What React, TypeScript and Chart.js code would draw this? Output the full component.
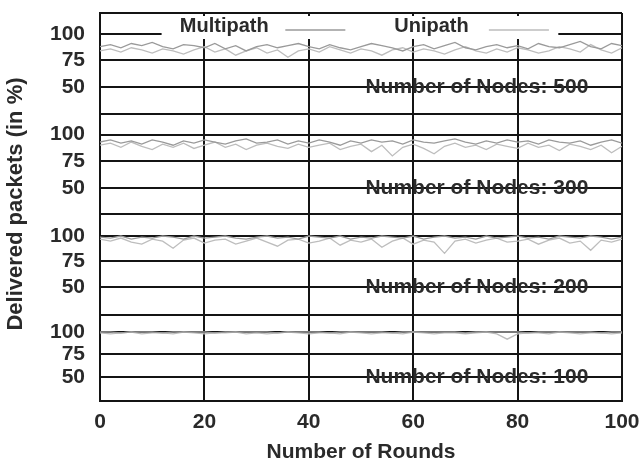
import React, { useEffect, useRef } from 'react';
import { Chart, registerables } from 'chart.js';

Chart.register(...registerables);

// ---- data ----
const rounds = [0, 2, 4, 6, 8, 10, 12, 14, 16, 18, 20, 22, 24, 26, 28, 30, 32, 34, 36, 38, 40, 42, 44, 46, 48, 50, 52, 54, 56, 58, 60, 62, 64, 66, 68, 70, 72, 74, 76, 78, 80, 82, 84, 86, 88, 90, 92, 94, 96, 98, 100];
const xTicks = [0, 20, 40, 60, 80, 100];
const yTicks = [50, 75, 100];
const nodeCounts = ['500', '300', '200', '100'];
const seriesNames = ['Multipath', 'Unipath'];

const multipath500 = [88, 90, 87, 91, 89, 92, 88, 86, 90, 89, 87, 91, 86, 89, 84, 88, 90, 87, 89, 91, 88, 86, 90, 87, 85, 88, 91, 89, 87, 84, 88, 90, 86, 89, 92, 87, 85, 88, 90, 87, 89, 86, 91, 88, 87, 90, 93, 88, 86, 91, 89];
const unipath500 = [84, 86, 83, 87, 85, 82, 86, 84, 81, 85, 88, 83, 86, 80, 84, 87, 82, 85, 78, 84, 86, 83, 88, 85, 82, 86, 84, 80, 85, 87, 83, 86, 84, 81, 85, 88, 84, 82, 86, 83, 87, 85, 82, 84, 88, 86, 83, 90, 85, 82, 87];
const multipath300 = [93, 95, 92, 94, 91, 95, 93, 90, 94, 92, 95, 93, 91, 94, 96, 92, 93, 95, 91, 94, 92, 95, 93, 90, 94, 92, 95, 93, 94, 91, 95, 93, 92, 94, 96, 93, 91, 94, 92, 95, 93, 94, 91, 95, 93, 92, 94, 90, 93, 95, 92];
const unipath300 = [90, 92, 88, 93, 89, 86, 91, 88, 92, 87, 90, 93, 88, 91, 86, 90, 92, 89, 87, 91, 88, 90, 92, 86, 89, 91, 84, 90, 80, 88, 91, 87, 82, 89, 92, 88, 90, 86, 91, 89, 87, 92, 88, 90, 85, 91, 89, 86, 90, 83, 89];
const multipath200 = [99, 98, 100, 97, 99, 98, 100, 99, 97, 100, 98, 99, 100, 98, 97, 99, 100, 98, 99, 97, 100, 99, 98, 100, 97, 99, 98, 100, 99, 98, 100, 97, 99, 100, 98, 99, 97, 100, 98, 99, 100, 98, 99, 97, 100, 99, 98, 100, 99, 97, 99];
const unipath200 = [97, 95, 98, 94, 92, 97, 95, 88, 96, 98, 93, 96, 97, 92, 95, 98, 94, 90, 96, 97, 93, 95, 98, 91, 96, 94, 97, 89, 95, 98, 92, 96, 94, 83, 95, 97, 93, 96, 98, 94, 95, 97, 92, 96, 98, 93, 95, 86, 96, 94, 97];
const multipath100 = [100, 100, 99, 100, 100, 100, 99, 100, 100, 100, 100, 99, 100, 100, 100, 100, 100, 99, 100, 100, 100, 100, 99, 100, 100, 100, 100, 100, 99, 100, 100, 100, 100, 100, 100, 99, 100, 100, 100, 100, 100, 99, 100, 100, 100, 100, 100, 100, 99, 100, 100];
const unipath100 = [99, 98, 99, 100, 98, 99, 99, 98, 100, 99, 98, 99, 99, 100, 98, 99, 98, 99, 100, 99, 98, 99, 99, 98, 100, 99, 98, 99, 99, 98, 100, 99, 98, 99, 99, 98, 99, 100, 98, 92, 98, 99, 99, 98, 100, 99, 98, 99, 99, 98, 99];

const multipathByPanel = [multipath500, multipath300, multipath200, multipath100];
const unipathByPanel = [unipath500, unipath300, unipath200, unipath100];

// axis ranges per panel (top to bottom) and relative panel heights
const panelMin = [24.5, 25.5, 22.5, 23.3];
const panelMax = [119.8, 119.3, 121.6, 118.9];
const panelWeight = [101, 100, 101, 86];

const FONT = '"Liberation Sans", Arial, Helvetica, sans-serif';
const TEXT = '#2a2a2a';
const GRID = '#141414';
const MULTI_COLOR = '#9a9a9a';
const UNI_COLOR = '#bdbdbd';

const overlay = {
  id: 'overlay',
  afterDraw(chart: any) {
    const { ctx, chartArea } = chart;
    const xs = chart.scales.x;
    ctx.save();
    // legend (covers the top grid row like gnuplot's opaque key)
    const lx0 = xs.getPixelForValue(11.8);
    const lx1 = xs.getPixelForValue(87.8);
    ctx.fillStyle = '#ffffff';
    ctx.fillRect(lx0, chartArea.top + 3, lx1 - lx0, 23);
    ctx.font = `bold 20px ${FONT}`;
    ctx.fillStyle = TEXT;
    ctx.textAlign = 'center';
    ctx.textBaseline = 'middle';
    const ly = chartArea.top + 13;
    ctx.fillText(seriesNames[0], xs.getPixelForValue(23.8), ly);
    ctx.fillText(seriesNames[1], xs.getPixelForValue(63.5), ly);
    ctx.lineWidth = 1.5;
    ctx.strokeStyle = MULTI_COLOR;
    ctx.beginPath();
    ctx.moveTo(xs.getPixelForValue(35.5), ly + 4);
    ctx.lineTo(xs.getPixelForValue(47), ly + 4);
    ctx.stroke();
    ctx.strokeStyle = UNI_COLOR;
    ctx.beginPath();
    ctx.moveTo(xs.getPixelForValue(74.5), ly + 4);
    ctx.lineTo(xs.getPixelForValue(86), ly + 4);
    ctx.stroke();

    // panel labels
    ctx.font = `bold 21px ${FONT}`;
    ctx.fillStyle = TEXT;
    nodeCounts.forEach((n) => {
      const ys = chart.scales['y' + n];
      ctx.fillText('Number of Nodes: ' + n, xs.getPixelForValue(72.2), ys.getPixelForValue(50));
    });

    // common y axis title
    ctx.font = `bold 22px ${FONT}`;
    ctx.translate(16, (chartArea.top + chartArea.bottom) / 2 - 3);
    ctx.rotate(-Math.PI / 2);
    ctx.fillText('Delivered packets (in %)', 0, 0);
    ctx.restore();
  },
};

export default function App() {
  const ref = useRef<HTMLCanvasElement | null>(null);

  useEffect(() => {
    if (!ref.current) return;
    const datasets: any[] = [];
    const scales: any = {
      x: {
        type: 'linear',
        min: 0,
        max: 100,
        afterBuildTicks: (s: any) => { s.ticks = xTicks.map((v) => ({ value: v })); },
        afterFit: (s: any) => { s.height = 66; s.paddingLeft = 0; s.paddingRight = 0; },
        grid: { color: GRID, lineWidth: 2, drawTicks: false },
        border: { color: GRID, width: 2 },
        ticks: { color: TEXT, font: { family: FONT, size: 21, weight: 'bold' }, padding: 9, maxRotation: 0, autoSkip: false },
        title: { display: true, text: 'Number of Rounds', color: TEXT, font: { family: FONT, size: 21, weight: 'bold' }, padding: { top: 0, bottom: 2 } },
      },
    };
    // define bottom panel first so the top panel is stacked on top
    for (let i = nodeCounts.length - 1; i >= 0; i--) {
      const id = 'y' + nodeCounts[i];
      const mn = panelMin[i];
      const mx = panelMax[i];
      scales[id] = {
        type: 'linear',
        position: 'left',
        stack: 'panels',
        stackWeight: panelWeight[i],
        min: mn,
        max: mx,
        afterBuildTicks: (s: any) => { s.ticks = [mn, ...yTicks, mx].map((v) => ({ value: v })); },
        afterFit: (s: any) => { s.width = 100; s.paddingTop = 0; s.paddingBottom = 0; },
        grid: { color: GRID, lineWidth: 2, drawTicks: false },
        border: { color: GRID, width: 2 },
        ticks: {
          color: TEXT,
          font: { family: FONT, size: 21, weight: 'bold' },
          padding: 15,
          autoSkip: false,
          callback: (v: any) => (yTicks.includes(v) ? String(v) : ''),
        },
      };
    }
    nodeCounts.forEach((n, i) => {
      datasets.push({
        label: seriesNames[0] + ' ' + n,
        yAxisID: 'y' + n,
        data: rounds.map((r, k) => ({ x: r, y: multipathByPanel[i][k] })),
        borderColor: MULTI_COLOR,
        borderWidth: 1.3,
        pointRadius: 0,
        tension: 0,
      });
      datasets.push({
        label: seriesNames[1] + ' ' + n,
        yAxisID: 'y' + n,
        data: rounds.map((r, k) => ({ x: r, y: unipathByPanel[i][k] })),
        borderColor: UNI_COLOR,
        borderWidth: 1.3,
        pointRadius: 0,
        tension: 0,
      });
    });

    const chart = new Chart(ref.current, {
      type: 'line',
      data: { datasets },
      options: {
        responsive: false,
        animation: false,
        layout: { padding: { top: 13, right: 21, left: 0, bottom: 0 } },
        plugins: { legend: { display: false }, tooltip: { enabled: false }, title: { display: false } },
        scales,
      },
      plugins: [overlay],
    } as any);
    return () => chart.destroy();
  }, []);

  return (
    <div style={{ position: 'absolute', left: 0, top: 0, width: 643, height: 467, background: '#fff' }}>
      <canvas ref={ref} width={643} height={467} style={{ display: 'block' }} />
    </div>
  );
}
